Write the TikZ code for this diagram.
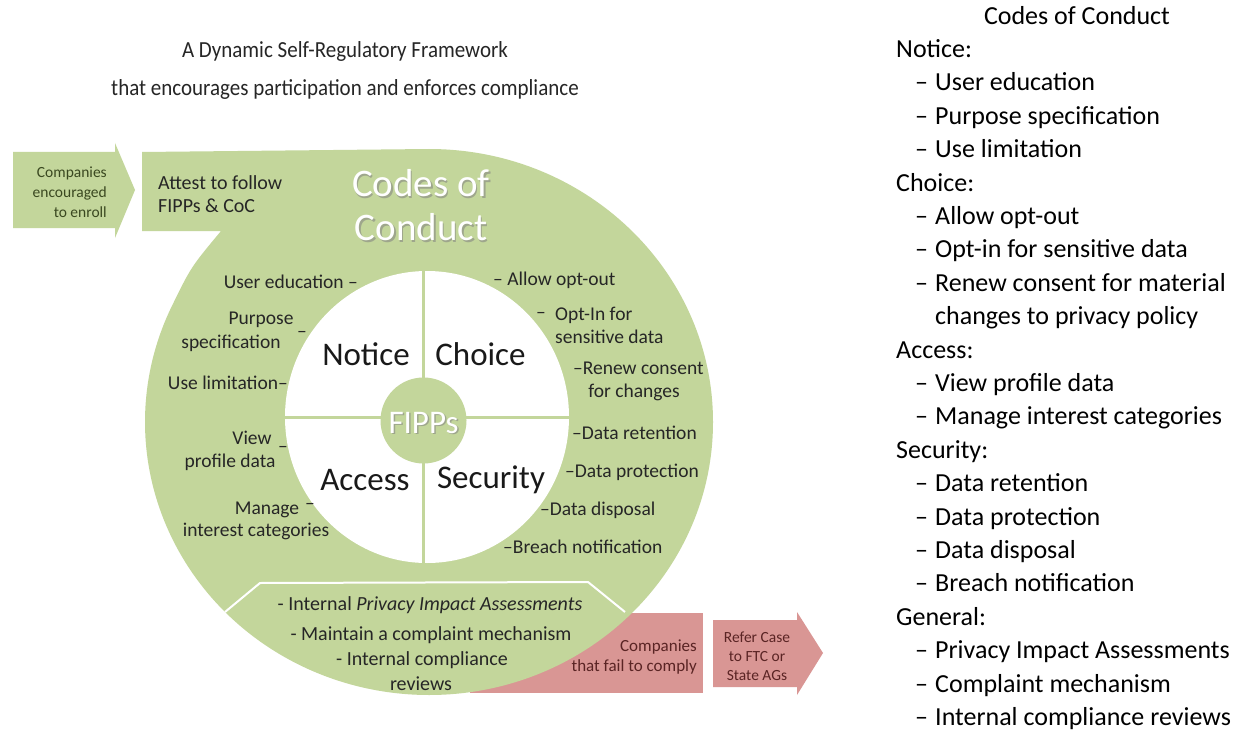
\documentclass[tikz,border=0pt]{standalone}
\usepackage{fontspec}
\setmainfont{Carlito}
\definecolor{grn}{HTML}{C3D69B}
\definecolor{rd}{HTML}{D99694}
\definecolor{txt}{HTML}{262626}
\definecolor{rtxt}{HTML}{5A2424}
\definecolor{gtxt}{HTML}{3A4820}
\newcommand{\fsz}[2]{\fontsize{#1}{#2}\selectfont}
\newcommand{\itm}{\hspace*{19pt}\makebox[20pt][l]{–}}
\newcommand{\cnt}{\hspace*{39pt}}
\begin{document}
\begin{tikzpicture}[x=1pt,y=-1pt,
  lbl/.style={inner sep=0pt, text=txt, font=\fsz{19.5}{23}},
  big/.style={inner sep=0pt, text=black!90, font=\fsz{33}{38}},
  wtxt/.style={inner sep=0pt, text=white},
  shd/.style={inner sep=0pt, text=black!50, opacity=0.55},
  trap/.style={inner sep=0pt, text=txt, font=\fsz{20}{24}},
]
\useasboundingbox (0,0) rectangle (1248,733);
\fill[white] (0,0) rectangle (1248,733);

% title
\node[inner sep=0pt, text=txt, font=\fsz{23}{38}] (title) at (345,69)
  {\scalebox{0.913}[1]{\begin{tabular}{@{}c@{}}A Dynamic Self-Regulatory Framework\\that encourages participation and enforces compliance\end{tabular}}};

% red box behind the ring
\fill[rd] (470,613) rectangle (703,693);
% green ring shape
\fill[grn] (142,152) -- (429,149) arc[start angle=270, end angle=565, x radius=284, y radius=273]
  .. controls (191,267) .. (221,231) -- (142,231) -- cycle;
% left arrow
\fill[grn] (13,152) -- (115,152) -- (115,143) -- (135,190) -- (115,238) -- (115,228) -- (13,228) -- cycle;
% refer arrow
\fill[rd] (713,620) -- (797,620) -- (797,612) -- (823,653) -- (797,695) -- (797,687) -- (713,687) -- cycle;

% white inner circle and quadrants
\fill[white] (427,417) ellipse [x radius=142, y radius=146];
\draw[grn, line width=3pt] (423,268) -- (423,566);
\draw[grn, line width=3pt] (282,417) -- (572,417);
\fill[grn] (423.5,420.5) circle[radius=43];

% trapezoid outline
\draw[white, line width=2pt, line join=round] (225,612) -- (260,583) -- (588,582) -- (625,612);

% header texts
\node[shd, font=\fsz{39}{44}, align=center] (cocs) at (422.5,207) {Codes of\\Conduct};
\node[wtxt, font=\fsz{39}{44}, align=center] (coc) at (421,205) {Codes of\\Conduct};
\node[shd, font=\fsz{33}{38}] (fipps) at (425,424.5) {FIPPs};
\node[wtxt, font=\fsz{33}{38}] (fipp) at (423.5,423) {FIPPs};

\node[big] (notice) at (366,354) {Notice};
\node[big] (choice) at (480.5,354) {Choice};
\node[big] (access) at (365,480) {Access};
\node[big] (security) at (491,480) {Security};

% arrows texts
\node[inner sep=0pt, text=gtxt, font=\fsz{15.5}{20}, align=right, anchor=east] (enroll) at (107,192)
  {Companies\\encouraged\\to enroll};
\node[inner sep=0pt, text=txt, font=\fsz{20}{23}, align=left, anchor=west] (attest) at (158,194)
  {Attest to follow\\FIPPs \& CoC};
\node[inner sep=0pt, text=rtxt, font=\fsz{17}{20}, align=right, anchor=east] (fail) at (697,657)
  {Companies\\that fail to comply};
\node[inner sep=0pt, text=rtxt, font=\fsz{15.5}{19}, align=center] (refer) at (757,656)
  {Refer Case\\to FTC or\\State AGs};

% left labels
\node[lbl, anchor=east] (ue) at (358,282) {User education –};
\node[lbl] (pp1) at (261,320) {Purpose};
\node[lbl] (pp2) at (231,343) {specification};
\node[lbl] (ppd) at (302,334) {–};
\node[lbl, anchor=east] (ul) at (288,383) {Use limitation–};
\node[lbl] (vp1) at (252,438) {View};
\node[lbl] (vpd) at (283,449) {–};
\node[lbl] (vp2) at (230,462) {profile data};
\node[lbl] (mg1) at (267,510) {Manage};
\node[lbl] (mgd) at (310,506) {–};
\node[lbl] (mg2) at (256,531) {interest categories};

% right labels
\node[lbl, anchor=west] (ao) at (493,280) {– Allow opt-out};
\node[lbl] (oid) at (541,315) {–};
\node[lbl, anchor=west, align=left] (oi) at (555,325) {Opt-In for\\sensitive data};
\node[lbl, anchor=west] (rc1) at (573,368) {–Renew consent};
\node[lbl] (rc2) at (634,392) {for changes};
\node[lbl, anchor=west] (dr) at (572,433) {–Data retention};
\node[lbl, anchor=west] (dp) at (565,472) {–Data protection};
\node[lbl, anchor=west] (dd) at (540,510) {–Data disposal};
\node[lbl, anchor=west] (bn) at (503,547) {–Breach notification};

% trapezoid texts
\node[trap] (t1) at (430,605) {- Internal \textit{Privacy Impact Assessments}};
\node[trap] (t2) at (431,635) {- Maintain a complaint mechanism};
\node[trap] (t3) at (422,660) {- Internal compliance};
\node[trap] (t4) at (421,684) {reviews};

% right column
\node[inner sep=0pt, font=\fsz{26}{33.4}, anchor=base] (cch) at (1077,25) {Codes of Conduct};
\node[inner sep=0pt, font=\fsz{26}{33.4}, anchor=base west] (cc) at (896,57.5)
 {\begin{tabular}[t]{@{}l@{}}
 Notice:\\
 \itm User education\\
 \itm Purpose specification\\
 \itm Use limitation\\
 Choice:\\
 \itm Allow opt-out\\
 \itm Opt-in for sensitive data\\
 \itm Renew consent for material\\
 \cnt changes to privacy policy\\
 Access:\\
 \itm View profile data\\
 \itm Manage interest categories\\
 Security:\\
 \itm Data retention\\
 \itm Data protection\\
 \itm Data disposal\\
 \itm Breach notification\\
 General:\\
 \itm Privacy Impact Assessments\\
 \itm Complaint mechanism\\
 \itm Internal compliance reviews
 \end{tabular}};
\end{tikzpicture}
\end{document}
